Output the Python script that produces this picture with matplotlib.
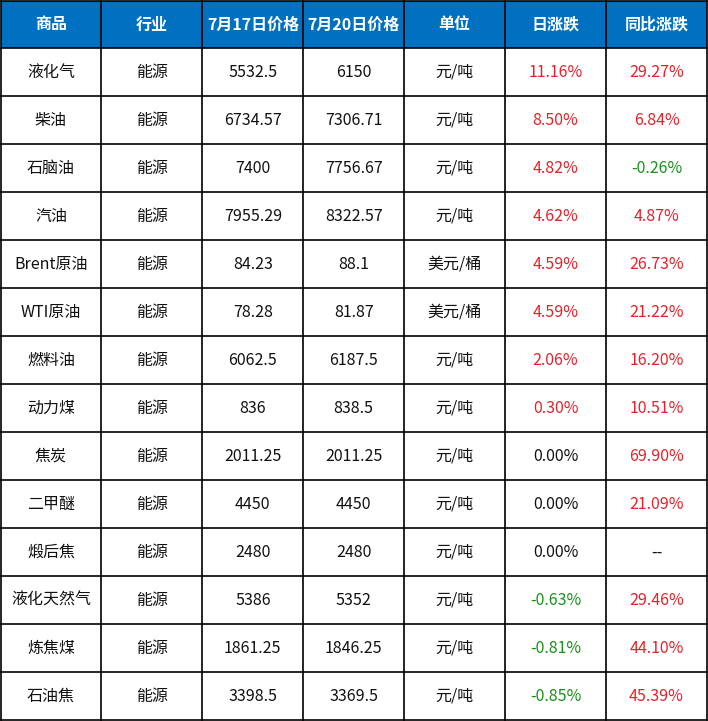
import matplotlib.pyplot as plt
from matplotlib.patches import Rectangle

plt.rcParams["font.family"] = ["Noto Sans CJK SC", "DejaVu Sans"]

headers = ["商品", "行业", "7月17日价格", "7月20日价格", "单位", "日涨跌", "同比涨跌"]
products = ["液化气", "柴油", "石脑油", "汽油", "Brent原油", "WTI原油", "燃料油",
            "动力煤", "焦炭", "二甲醚", "煅后焦", "液化天然气", "炼焦煤", "石油焦"]
industry = ["能源"] * len(products)
price_0717 = ["5532.5", "6734.57", "7400", "7955.29", "84.23", "78.28", "6062.5",
              "836", "2011.25", "4450", "2480", "5386", "1861.25", "3398.5"]
price_0720 = ["6150", "7306.71", "7756.67", "8322.57", "88.1", "81.87", "6187.5",
              "838.5", "2011.25", "4450", "2480", "5352", "1846.25", "3369.5"]
units = ["元/吨", "元/吨", "元/吨", "元/吨", "美元/桶", "美元/桶", "元/吨",
         "元/吨", "元/吨", "元/吨", "元/吨", "元/吨", "元/吨", "元/吨"]
daily_change = [11.16, 8.50, 4.82, 4.62, 4.59, 4.59, 2.06,
                0.30, 0.00, 0.00, 0.00, -0.63, -0.81, -0.85]
yoy_change = [29.27, 6.84, -0.26, 4.87, 26.73, 21.22, 16.20,
              10.51, 69.90, 21.09, None, 29.46, 44.10, 45.39]

HEADER_BG = "#0070C0"
RED = "#E8202A"
GREEN = "#1A8F1A"
BLACK = "#111111"


def pct_cell(v):
    if v is None:
        return "--", BLACK
    color = GREEN if v < 0 else (BLACK if v == 0 else RED)
    return f"{v:.2f}%", color


W, H = 708, 721
fig = plt.figure(figsize=(W / 100, H / 100), dpi=100)
ax = fig.add_axes([0, 0, 1, 1])
ax.set_xlim(0, W)
ax.set_ylim(H, 0)
ax.axis("off")

ncols = len(headers)
nrows = len(products) + 1
x0, x1 = 0.5, 707.0
y0, y1 = 0.5, 720.0
cw = (x1 - x0) / ncols
rh = (y1 - y0) / nrows

ax.add_patch(Rectangle((x0, y0), x1 - x0, rh, facecolor=HEADER_BG, edgecolor="none"))
for j, h in enumerate(headers):
    ax.text(x0 + (j + 0.5) * cw, y0 + 0.5 * rh, h, ha="center", va="center",
            color="white", fontsize=11.5, fontweight="bold")

for i in range(len(products)):
    d_txt, d_col = pct_cell(daily_change[i])
    y_txt, y_col = pct_cell(yoy_change[i])
    row = [(products[i], BLACK), (industry[i], BLACK), (price_0717[i], BLACK),
           (price_0720[i], BLACK), (units[i], BLACK), (d_txt, d_col), (y_txt, y_col)]
    yc = y0 + (i + 1.5) * rh
    for j, (txt, col) in enumerate(row):
        ax.text(x0 + (j + 0.5) * cw, yc, txt, ha="center", va="center",
                color=col, fontsize=11.5)

for j in range(ncols + 1):
    x = x0 + j * cw
    ax.plot([x, x], [y0, y1], color="black", lw=1.2, solid_capstyle="projecting")
for i in range(nrows + 1):
    y = y0 + i * rh
    ax.plot([x0, x1], [y, y], color="black", lw=1.2, solid_capstyle="projecting")

fig.savefig("out.png", dpi=100)
